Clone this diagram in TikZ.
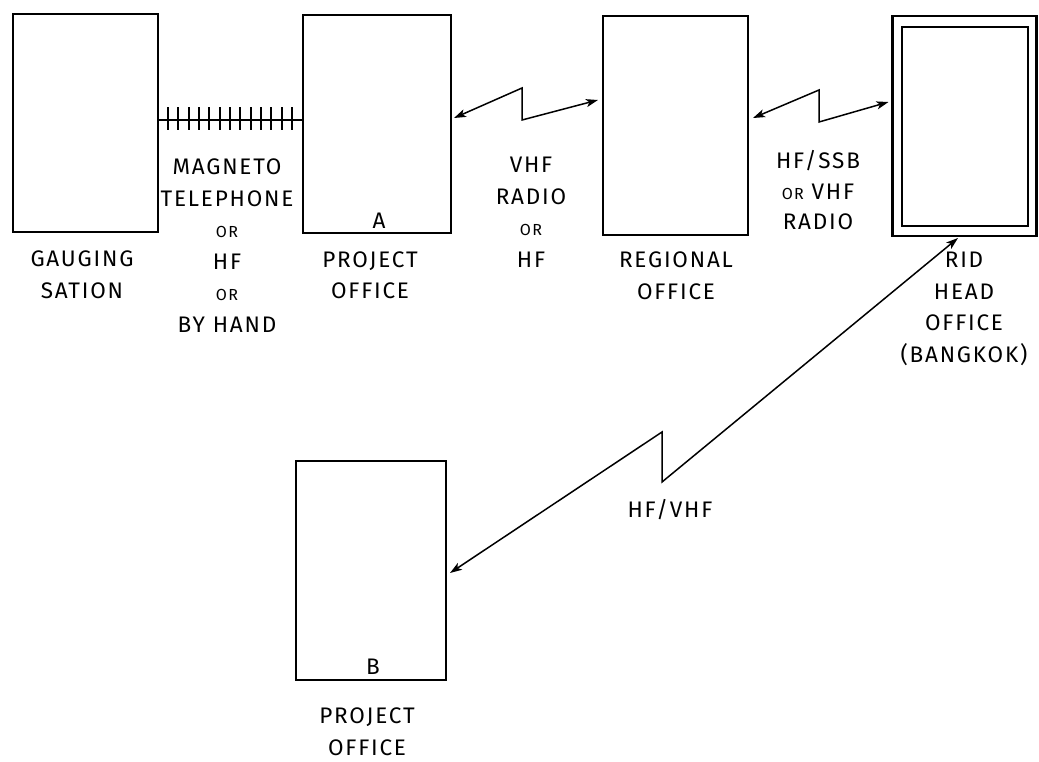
\documentclass[tikz,border=0pt]{standalone}
\usepackage{fontspec}
\setmainfont{Fira Sans}[LetterSpace=8]
\usetikzlibrary{arrows.meta}
\newcommand{\smor}{{\fontsize{16}{31}\selectfont OR}}
\begin{document}
\begin{tikzpicture}[x=1pt,y=-1pt,
  box/.style={draw,line width=2.1pt,rectangle,inner sep=0pt,outer sep=0pt},
  lab/.style={align=center,inner sep=0pt,font=\fontsize{22.5}{31.5}\selectfont},
  link/.style={line width=1.5pt,{Stealth[length=12pt,width=8pt,inset=3pt]}-{Stealth[length=12pt,width=8pt,inset=3pt]}}]
\useasboundingbox (0,0) rectangle (1039,761);
% boxes
\node[box,minimum width=145pt,minimum height=218pt] (gs) at (85.5,123) {};
\node[box,minimum width=148pt,minimum height=218pt] (pa) at (377,124) {};
\node[box,minimum width=145pt,minimum height=219pt] (ro) at (675.5,125.5) {};
\node[box,minimum width=144pt,minimum height=220pt] (rid) at (964.5,126) {};
\node[box,minimum width=126pt,minimum height=199pt] (ridin) at (965,126.5) {};
\node[box,minimum width=150pt,minimum height=219pt] (pb) at (371,570.5) {};
% labels
\node[lab] (gslab) at (82,274.5) {GAUGING\\SATION};
\node[lab] (maglab) at (227,245.5) {MAGNETO\\TELEPHONE\\\smor\\HF\\\smor\\BY HAND};
\node[lab] (alab) at (379,221) {A};
\node[lab] (palab) at (370,275) {PROJECT\\OFFICE};
\node[lab] (vhflab) at (531,212) {VHF\\RADIO\\\smor\\HF};
\node[lab] (rolab) at (676,275.5) {REGIONAL\\OFFICE};
\node[lab,font=\fontsize{22.5}{30.5}\selectfont] (ssblab) at (818,190.5) {HF/SSB\\\smor{} VHF\\RADIO};
\node[lab] (ridlab) at (964,309) {RID\\HEAD\\OFFICE\\(BANGKOK)};
\node[lab] (hfvlab) at (670,510) {HF/VHF};
\node[lab] (blab) at (373,667) {B};
\node[lab] (pblab) at (367,731.5) {PROJECT\\OFFICE};
% magneto telephone line
\draw[line width=1.3pt] ([yshift=3pt]gs.east) -- ([yshift=4pt]pa.west);
\foreach \i in {0,...,12}
  \draw[line width=1.8pt] (168+\i*10.33,107) -- (168+\i*10.33,130);
% radio links
\coordinate (k1a) at (522,88);
\coordinate (k1b) at (522,120);
\draw[link] ([xshift=3pt,yshift=6pt]pa.east) -- (k1a) -- (k1b) -- ([xshift=-5pt,yshift=25.5pt]ro.west);
\coordinate (k2a) at (819,90);
\coordinate (k2b) at (819,122);
\draw[link] ([xshift=5pt,yshift=7.5pt]ro.east) -- (k2a) -- (k2b) -- ([xshift=-4pt,yshift=24pt]rid.west);
\coordinate (k3a) at (662,482);
\coordinate (k3b) at (662,432);
\draw[link] ([xshift=-6.5pt,yshift=-2pt]rid.south) -- (k3a) -- (k3b) -- ([xshift=4pt,yshift=-2.5pt]pb.east);
\end{tikzpicture}
\end{document}
